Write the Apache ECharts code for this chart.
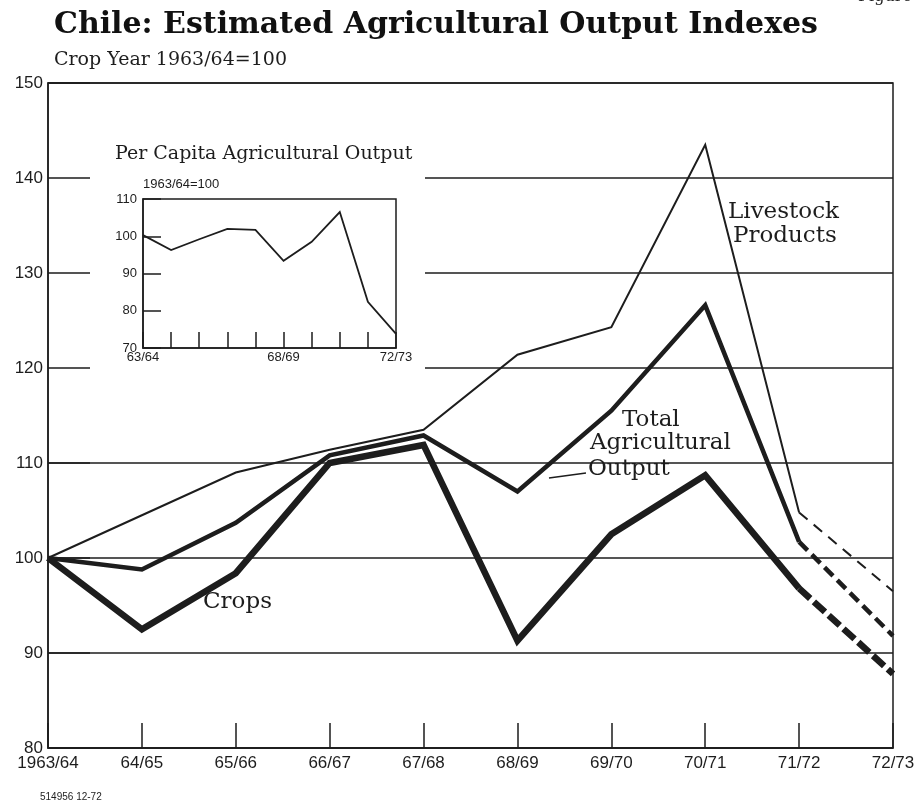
<!DOCTYPE html>
<html>
<head>
<meta charset="utf-8">
<script src="https://cdn.jsdelivr.net/npm/echarts@6/dist/echarts.min.js"></script>
<style>html,body{margin:0;padding:0;background:#fff;}#c{width:914px;height:805px;}</style>
</head>
<body>
<div id="c"></div>
<script>
const categories = ['1963/64','64/65','65/66','66/67','67/68','68/69','69/70','70/71','71/72','72/73'];
const insetCategories = ['63/64','64/65','65/66','66/67','67/68','68/69','69/70','70/71','71/72','72/73'];
const livestock = [100, 104.5, 109.0, 111.4, 113.5, 121.4, 124.3, 143.5, 104.8, 96.5];
const totalAg   = [100, 98.8, 103.7, 110.8, 112.9, 107.0, 115.5, 126.6, 101.7, 91.8];
const crops     = [100, 92.5, 98.4, 110.0, 111.9, 91.3, 102.5, 108.7, 96.8, 87.8];
const perCapita = [100.3, 96.3, 99.2, 102.0, 101.7, 93.4, 98.5, 106.5, 82.4, 73.8];
const mainTicks = [80, 90, 100, 110, 120, 130, 140, 150];
const insetTicks = [70, 80, 90, 100, 110];
const estimatedFrom = 8; // index where dashed (estimated) segment starts

const INK = '#1d1d1d';
const solidPart = a => a.map((v, i) => i <= estimatedFrom ? v : null);
const dashPart = a => a.map((v, i) => i >= estimatedFrom ? v : null);

const chart = echarts.init(document.getElementById('c'));
const T = 'transparent';
const mainSplitColors = mainTicks.map(v => (v >= 120 && v <= 140) ? T : INK);
const rightSplitColors = mainTicks.map(v => (v >= 120 && v <= 140) ? INK : T);

function lineSeries(name, data, width, dash, xi, yi) {
  return {
    name, type: 'line', data, xAxisIndex: xi, yAxisIndex: yi,
    symbol: 'none', showSymbol: false, connectNulls: false, silent: true,
    lineStyle: { color: INK, width, type: dash || 'solid', join: 'miter', cap: 'butt' },
    z: 5
  };
}

chart.setOption({
  animation: false,
  backgroundColor: '#fff',
  grid: [
    { left: 48, right: 21, top: 83, bottom: 57, show: true, borderColor: INK, borderWidth: 1.5, backgroundColor: 'transparent', outerBoundsMode: 'none', containLabel: false },
    { left: 425, right: 21, top: 83, bottom: 57, show: false, outerBoundsMode: 'none', containLabel: false },
    { left: 143, top: 199, width: 253, height: 149, show: true, borderColor: INK, borderWidth: 1.5, backgroundColor: 'transparent', outerBoundsMode: 'none', containLabel: false }
  ],
  xAxis: [
    { type: 'category', gridIndex: 0, data: categories, boundaryGap: false,
      axisLine: { lineStyle: { color: INK, width: 1.5 } },
      axisTick: { inside: true, length: 25, lineStyle: { color: INK, width: 1.5 } },
      axisLabel: { color: INK, fontFamily: 'Liberation Sans', fontSize: 17, margin: 7, interval: 0 },
      splitLine: { show: false } },
    { type: 'category', gridIndex: 1, data: categories, show: false },
    { type: 'category', gridIndex: 2, data: insetCategories, boundaryGap: false,
      axisLine: { lineStyle: { color: INK, width: 1.5 } },
      axisTick: { inside: true, length: 16, interval: 0, lineStyle: { color: INK, width: 1.5 } },
      axisLabel: { color: INK, fontFamily: 'Liberation Sans', fontSize: 13, margin: 3,
        interval: (i) => i === 0 || i === 5 || i === 9 },
      splitLine: { show: false } }
  ],
  yAxis: [
    { type: 'value', gridIndex: 0, min: 80, max: 150, interval: 10,
      axisLine: { show: true, lineStyle: { color: INK, width: 1.5 } },
      axisTick: { show: true, inside: true, length: 42, lineStyle: { color: INK, width: 1.5 } },
      axisLabel: { color: INK, fontFamily: 'Liberation Sans', fontSize: 17, margin: 5 },
      splitLine: { show: true, lineStyle: { color: mainSplitColors, width: 1.5 } } },
    { type: 'value', gridIndex: 1, min: 80, max: 150, interval: 10,
      axisLine: { show: false }, axisTick: { show: false }, axisLabel: { show: false },
      splitLine: { show: true, lineStyle: { color: rightSplitColors, width: 1.5 } } },
    { type: 'value', gridIndex: 2, min: 70, max: 110, interval: 10,
      axisLine: { show: true, lineStyle: { color: INK, width: 1.5 } },
      axisTick: { show: true, inside: true, length: 18, lineStyle: { color: INK, width: 1.5 } },
      axisLabel: { color: INK, fontFamily: 'Liberation Sans', fontSize: 13, margin: 6 },
      splitLine: { show: false } }
  ],
  series: [
    lineSeries('Livestock Products', solidPart(livestock), 2, null, 0, 0),
    lineSeries('Livestock Products (est.)', dashPart(livestock), 2, [11, 8], 0, 0),
    lineSeries('Total Agricultural Output', solidPart(totalAg), 4.5, null, 0, 0),
    lineSeries('Total Agricultural Output (est.)', dashPart(totalAg), 4.5, [12, 6], 0, 0),
    lineSeries('Crops', solidPart(crops), 6.5, null, 0, 0),
    lineSeries('Crops (est.)', dashPart(crops), 6.5, [15, 5], 0, 0),
    lineSeries('Per Capita Agricultural Output', perCapita, 1.8, null, 2, 2)
  ],
  graphic: [
    { type: 'text', left: 858, top: -11, style: { text: 'Figure 1', font: '16px "DejaVu Serif"', fill: INK } },
    { type: 'text', left: 54, top: 10, style: { text: 'Chile: Estimated Agricultural Output Indexes', font: 'bold 30px "DejaVu Serif"', fill: '#111' } },
    { type: 'text', left: 54, top: 51, style: { text: 'Crop Year 1963/64=100', font: '19px "DejaVu Serif"', fill: INK } },
    { type: 'text', left: 115, top: 145, style: { text: 'Per Capita Agricultural Output', font: '19px "DejaVu Serif"', fill: INK } },
    { type: 'text', left: 143, top: 178, style: { text: '1963/64=100', font: '13px "Liberation Sans"', fill: INK } },
    { type: 'text', left: 728, top: 201, style: { text: 'Livestock', font: '23px "DejaVu Serif"', fill: INK } },
    { type: 'text', left: 733, top: 225, style: { text: 'Products', font: '23px "DejaVu Serif"', fill: INK } },
    { type: 'text', left: 622, top: 409, style: { text: 'Total', font: '23px "DejaVu Serif"', fill: INK } },
    { type: 'text', left: 590, top: 432, style: { text: 'Agricultural', font: '23px "DejaVu Serif"', fill: INK } },
    { type: 'text', left: 588, top: 458, style: { text: 'Output', font: '23px "DejaVu Serif"', fill: INK } },
    { type: 'line', shape: { x1: 549, y1: 478, x2: 586, y2: 473 }, style: { stroke: INK, lineWidth: 1.5 } },
    { type: 'text', left: 203, top: 591, style: { text: 'Crops', font: '23px "DejaVu Serif"', fill: INK } },
    { type: 'text', left: 40, top: 792, style: { text: '514956 12-72', font: '10px "Liberation Sans"', fill: INK } }
  ]
});
</script>
</body>
</html>
